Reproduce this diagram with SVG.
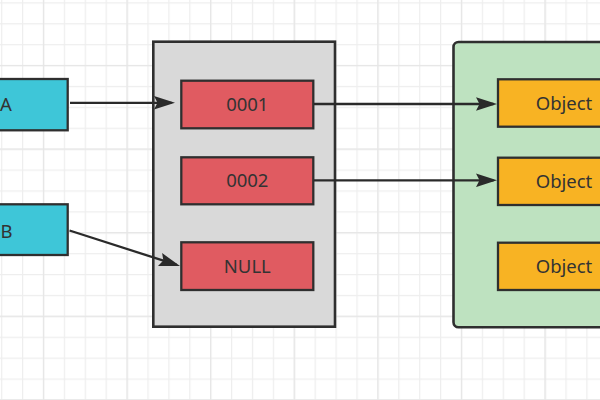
<svg xmlns="http://www.w3.org/2000/svg" width="600" height="400" viewBox="0 0 600 400">
<style>
.lbl{font-family:"Noto Sans","Open Sans","Liberation Sans",sans-serif;font-size:18.5px;fill:#333;text-anchor:middle}
.box{stroke:#2f2f2f;stroke-width:2.3}
.cont{stroke:#2f2f2f;stroke-width:2.6}
.var{fill:#3EC6D8}
.ref{fill:#E05B61}
.obj{fill:#F8B323}
.edge{fill:none;stroke:#2a2a2a;stroke-width:2.3}
</style>
<defs>
<pattern id="minor" patternUnits="userSpaceOnUse" x="1.1" y="2.3" width="20.9" height="20.9">
<path d="M0.6 0V20.9M0 0.6H20.9" stroke="#eeeeee" stroke-width="1.3" fill="none"/>
</pattern>
<pattern id="major" patternUnits="userSpaceOnUse" x="42.9" y="64.9" width="83.6" height="83.6">
<path d="M0.6 0V83.6M0 0.6H83.6" stroke="#e6e6e6" stroke-width="1.3" fill="none"/>
</pattern>
<marker id="arr" markerUnits="userSpaceOnUse" markerWidth="22" markerHeight="14" refX="17.5" refY="7" orient="auto">
<path d="M0,0.2 L21,7 L0,13.8 L3.5,7 Z" fill="#2a2a2a"/>
</marker>
</defs>
<rect width="600" height="400" fill="#ffffff"/>
<rect width="600" height="400" fill="url(#minor)"/>
<rect width="600" height="400" fill="url(#major)"/>

<g id="heap">
<rect class="cont" x="153.3" y="41.7" width="181.7" height="285" fill="#D9D9D9"/>
</g>
<g id="objects">
<rect class="cont" x="453.5" y="42" width="260" height="285.3" rx="5" fill="#BEE2C0"/>
</g>

<g id="nodeA">
<rect class="box var" x="-60" y="79" width="127.7" height="51.3"/>
<text class="lbl" x="6" y="111.3">A</text>
</g>
<g id="nodeB">
<rect class="box var" x="-60" y="204.3" width="127.7" height="50.7"/>
<text class="lbl" x="6.5" y="237.8">B</text>
</g>

<g id="ref0001">
<rect class="box ref" x="181.3" y="80.7" width="132" height="47.6"/>
<text class="lbl" x="247.3" y="111.2">0001</text>
</g>
<g id="ref0002">
<rect class="box ref" x="181.3" y="157.3" width="132" height="47"/>
<text class="lbl" x="247.3" y="187.4">0002</text>
</g>
<g id="refNULL">
<rect class="box ref" x="181.3" y="242.3" width="132" height="47.7"/>
<text class="lbl" x="247.3" y="272.8">NULL</text>
</g>

<g id="obj1">
<rect class="box obj" x="498" y="79.3" width="132" height="47.4"/>
<text class="lbl" x="564" y="109.7">Object</text>
</g>
<g id="obj2">
<rect class="box obj" x="498" y="157.7" width="132" height="47.3"/>
<text class="lbl" x="564" y="188">Object</text>
</g>
<g id="obj3">
<rect class="box obj" x="498" y="242.7" width="132" height="47.3"/>
<text class="lbl" x="564" y="273">Object</text>
</g>

<g id="connectors">
<line class="edge" x1="70" y1="102.8" x2="171.5" y2="102.8" marker-end="url(#arr)"/>
<line class="edge" x1="314" y1="104" x2="493.5" y2="104" marker-end="url(#arr)"/>
<line class="edge" x1="314" y1="180.3" x2="493.5" y2="180.3" marker-end="url(#arr)"/>
<line class="edge" x1="69.5" y1="230.5" x2="176.7" y2="264.9" marker-end="url(#arr)"/>
</g>
</svg>
